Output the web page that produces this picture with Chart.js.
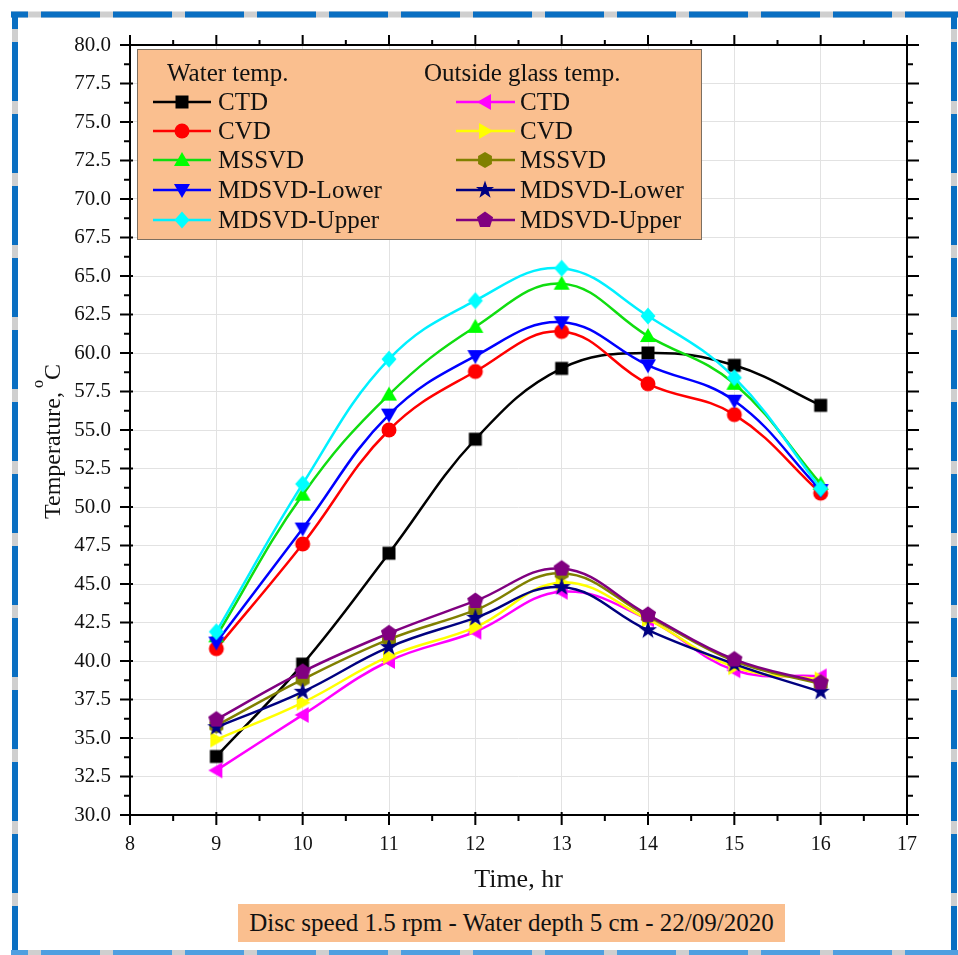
<!DOCTYPE html>
<html><head><meta charset="utf-8">
<script src="https://cdn.jsdelivr.net/npm/chart.js@4.4.1/dist/chart.umd.min.js"></script>
<style>
html,body{margin:0;padding:0;background:#fff;}
#wrap{position:relative;width:958px;height:955px;overflow:hidden;background:#fff;}
#c{position:absolute;left:0;top:0;}
#caption{position:absolute;left:238px;top:904px;width:547px;height:38px;background:#fabf8f;font:25px 'Liberation Serif','Times New Roman',serif;color:#111;text-align:center;line-height:38px;white-space:nowrap;}
</style></head><body>
<div id="wrap"><canvas id="c" width="958" height="955"></canvas><div id="caption">Disc speed 1.5 rpm - Water depth 5 cm - 22/09/2020</div></div>
<script>
// ---- data ----
const hours = [9, 10, 11, 12, 13, 14, 15, 16];
const seriesNames = ["CTD", "CVD", "MSSVD", "MDSVD-Lower", "MDSVD-Upper"];
const waterCTD        = [33.8, 39.8, 47.0, 54.4, 59.0, 60.0, 59.2, 56.6];
const waterCVD        = [40.8, 47.6, 55.0, 58.8, 61.4, 58.0, 56.0, 50.9];
const waterMSSVD      = [41.6, 50.8, 57.3, 61.7, 64.5, 61.1, 58.0, 51.5];
const waterMDSVDLower = [41.2, 48.6, 56.0, 59.8, 62.0, 59.2, 56.9, 51.1];
const waterMDSVDUpper = [41.9, 51.5, 59.6, 63.4, 65.5, 62.4, 58.4, 51.2];
const glassCTD        = [32.9, 36.5, 40.0, 41.9, 44.5, 42.7, 39.4, 39.0];
const glassCVD        = [34.9, 37.3, 40.3, 42.2, 45.1, 42.7, 39.6, 38.8];
const glassMSSVD      = [35.8, 38.8, 41.4, 43.3, 45.7, 42.9, 40.0, 38.5];
const glassMDSVDLower = [35.7, 38.0, 40.9, 42.8, 44.8, 42.0, 39.8, 38.0];
const glassMDSVDUpper = [36.2, 39.3, 41.8, 43.9, 46.0, 43.0, 40.1, 38.6];
const legendHeaders = ["Water temp.", "Outside glass temp."];
const xTitle = "Time, hr";
const yTitleMain = "Temperature,";
const yTitleSup = "o";
const yTitleUnit = "C";

// ---- markers ----
function marker(shape, color) {
  const s = 20, c = s / 2;
  const cv = document.createElement('canvas');
  cv.width = s; cv.height = s;
  const g = cv.getContext('2d');
  g.fillStyle = color;
  g.beginPath();
  const poly = (pts) => { g.moveTo(pts[0][0], pts[0][1]); for (let i = 1; i < pts.length; i++) g.lineTo(pts[i][0], pts[i][1]); g.closePath(); };
  const reg = (n, r, start) => { const p = []; for (let i = 0; i < n; i++) { const a = start + i * 2 * Math.PI / n; p.push([c + r * Math.cos(a), c + r * Math.sin(a)]); } return p; };
  switch (shape) {
    case 'square': g.rect(c - 6.5, c - 6.5, 13, 13); break;
    case 'circle': g.arc(c, c, 7.5, 0, Math.PI * 2); break;
    case 'up': poly([[c, c - 8], [c + 8, c + 6], [c - 8, c + 6]]); break;
    case 'down': poly([[c, c + 8], [c + 8, c - 6], [c - 8, c - 6]]); break;
    case 'left': poly([[c - 8, c], [c + 6, c - 8], [c + 6, c + 8]]); break;
    case 'right': poly([[c + 8, c], [c - 6, c - 8], [c - 6, c + 8]]); break;
    case 'diamond': poly([[c, c - 8.5], [c + 7.5, c], [c, c + 8.5], [c - 7.5, c]]); break;
    case 'hex': poly(reg(6, 8, -Math.PI / 2)); break;
    case 'pent': poly(reg(5, 8.5, -Math.PI / 2)); break;
    case 'star': {
      const p = [];
      for (let i = 0; i < 10; i++) { const r = i % 2 ? 3.8 : 9.5; const a = -Math.PI / 2 + i * Math.PI / 5; p.push([c + r * Math.cos(a), c + r * Math.sin(a)]); }
      poly(p); break;
    }
  }
  g.fill();
  return cv;
}

const styles = [
  { line: '#000000', fill: '#000000', shape: 'square' },
  { line: '#ff0000', fill: '#ff0000', shape: 'circle' },
  { line: '#10dd10', fill: '#00ff00', shape: 'up' },
  { line: '#0000ff', fill: '#0000ff', shape: 'down' },
  { line: '#00f0ff', fill: '#00ffff', shape: 'diamond' },
  { line: '#ff00ff', fill: '#ff00ff', shape: 'left' },
  { line: '#ffff00', fill: '#ffff00', shape: 'right' },
  { line: '#808000', fill: '#808000', shape: 'hex' },
  { line: '#000080', fill: '#000080', shape: 'star' },
  { line: '#800080', fill: '#800080', shape: 'pent' }
];
const allSeries = [waterCTD, waterCVD, waterMSSVD, waterMDSVDLower, waterMDSVDUpper,
                   glassCTD, glassCVD, glassMSSVD, glassMDSVDLower, glassMDSVDUpper];

const datasets = allSeries.map((vals, i) => ({
  label: seriesNames[i % 5],
  data: hours.map((h, k) => ({ x: h, y: vals[k] })),
  borderColor: styles[i].line,
  backgroundColor: styles[i].fill,
  borderWidth: 2.5,
  pointStyle: marker(styles[i].shape, styles[i].fill),
  pointRadius: 8,
  tension: 0.4,
  order: 20 - i
}));

const FONT = "'Liberation Serif','Times New Roman',serif";

// ---- plugins ----
const framePlugin = {
  id: 'frame',
  afterDraw(chart) {
    const { ctx, chartArea: { left, right, top, bottom }, scales: { x, y } } = chart;
    ctx.save();
    ctx.strokeStyle = '#000';
    ctx.lineWidth = 2;
    ctx.strokeRect(left, top, right - left, bottom - top);
    ctx.beginPath();
    for (let v = x.min; v <= x.max + 1e-9; v += 0.5) {
      const px = x.getPixelForValue(v);
      const major = Math.abs(v - Math.round(v)) < 1e-9;
      ctx.moveTo(px, bottom - (major ? 3 : 0)); ctx.lineTo(px, bottom + (major ? 10 : 6));
      ctx.moveTo(px, top); ctx.lineTo(px, top - (major ? 10 : 5));
    }
    for (let v = y.min; v <= y.max + 1e-9; v += 1.25) {
      const py = y.getPixelForValue(v);
      const major = Math.abs(v / 2.5 - Math.round(v / 2.5)) < 1e-9;
      ctx.moveTo(left + (major ? 3 : 0), py); ctx.lineTo(left - (major ? 10 : 6), py);
      ctx.moveTo(right, py); ctx.lineTo(right + (major ? 12 : 6), py);
    }
    ctx.stroke();

    // y title with superscript
    ctx.translate(60, 519);
    ctx.rotate(-Math.PI / 2);
    ctx.fillStyle = '#111';
    ctx.textBaseline = 'alphabetic';
    ctx.font = '24px ' + FONT;
    ctx.fillText(yTitleMain, 0, 0);
    let w = ctx.measureText(yTitleMain).width + 4;
    ctx.font = '16px ' + FONT;
    ctx.fillText(yTitleSup, w, -17);
    w += ctx.measureText(yTitleSup).width;
    ctx.font = '24px ' + FONT;
    ctx.fillText(yTitleUnit, w, 0);
    ctx.restore();

    // dashed page border
    ctx.save();
    ctx.lineWidth = 6;
    const segs = [[11, 14.5, 958, 14.5], [15, 12, 15, 955], [954, 12, 954, 955], [11, 953, 958, 953]];
    segs.forEach((s, i) => {
      ctx.setLineDash([]);
      ctx.strokeStyle = '#cfcfcf';
      ctx.beginPath(); ctx.moveTo(s[0], s[1]); ctx.lineTo(s[2], s[3]); ctx.stroke();
      ctx.setLineDash([59, 13]);
      ctx.lineDashOffset = 42;
      ctx.strokeStyle = i === 3 ? '#4f9fe0' : '#0a6fc2';
      ctx.beginPath(); ctx.moveTo(s[0], s[1]); ctx.lineTo(s[2], s[3]); ctx.stroke();
    });
    ctx.restore();
  }
};

const legendPlugin = {
  id: 'legendBox',
  afterDraw(chart) {
    const ctx = chart.ctx;
    ctx.save();
    ctx.fillStyle = '#fabf8f';
    ctx.fillRect(137, 49, 564, 190);
    ctx.strokeStyle = '#7d6f60';
    ctx.lineWidth = 1;
    ctx.strokeRect(137.5, 49.5, 564, 190);
    ctx.font = '25px ' + FONT;
    ctx.fillStyle = '#111';
    ctx.textBaseline = 'middle';
    ctx.fillText(legendHeaders[0], 167, 74);
    ctx.fillText(legendHeaders[1], 424, 74);
    const rows = [102, 131, 160, 190, 220];
    chart.data.datasets.forEach((ds, i) => {
      const y = rows[i % 5];
      const [x0, x1, mx, tx] = i < 5 ? [153, 211, 182, 218] : [456, 515, 485, 520];
      ctx.strokeStyle = ds.borderColor;
      ctx.lineWidth = 2.5;
      ctx.beginPath(); ctx.moveTo(x0, y); ctx.lineTo(x1, y); ctx.stroke();
      const m = ds.pointStyle;
      ctx.drawImage(m, mx - m.width / 2, y - m.height / 2);
      ctx.fillStyle = '#111';
      ctx.fillText(ds.label, tx, y + 1);
    });
    ctx.restore();
  }
};

new Chart(document.getElementById('c'), {
  type: 'line',
  data: { datasets },
  options: {
    responsive: false,
    animation: false,
    devicePixelRatio: 1,
    layout: { padding: { top: 45, right: 51, left: 0, bottom: 0 } },
    plugins: { legend: { display: false }, tooltip: { enabled: false }, title: { display: false } },
    scales: {
      x: {
        type: 'linear', min: 8, max: 17,
        afterFit: (s) => { s.height = 140; },
        grid: { color: '#e2e2e2', lineWidth: 1, drawTicks: false },
        border: { display: false },
        ticks: { stepSize: 1, autoSkip: false, maxRotation: 0, padding: 18, color: '#111', font: { family: FONT, size: 20 } },
        title: { display: true, text: xTitle, color: '#111', font: { family: FONT, size: 26 }, padding: { top: 0, bottom: 59 } }
      },
      y: {
        type: 'linear', min: 30, max: 80,
        afterFit: (s) => { s.width = 130; },
        grid: { color: '#e2e2e2', lineWidth: 1, drawTicks: false },
        border: { display: false },
        ticks: { stepSize: 2.5, autoSkip: false, padding: 19, color: '#111', font: { family: FONT, size: 21 }, callback: (v) => Number(v).toFixed(1) }
      }
    }
  },
  plugins: [framePlugin, legendPlugin]
});
</script>
</body></html>
